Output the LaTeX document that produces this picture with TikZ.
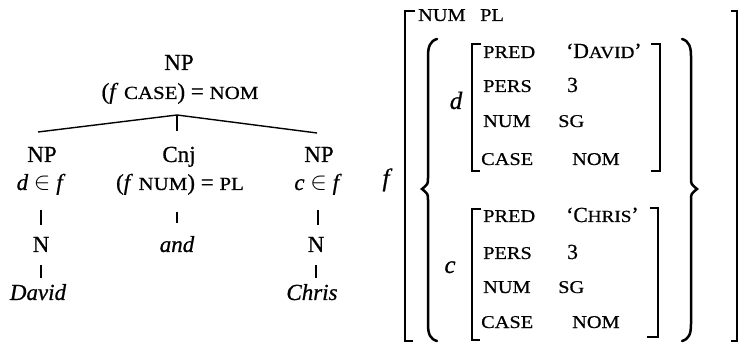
\documentclass[tikz,border=0pt]{standalone}
\usepackage{fontspec}
\setmainfont[FakeBold=0.7]{Liberation Serif}
\newfontfamily\scf[FakeStretch=1.13, FakeBold=0.7]{Liberation Serif}
\newcommand\tsc[1]{{\scf\fontsize{18.5}{20}\selectfont #1}}
\newcommand\bsc[1]{{\scf\fontsize{17}{20}\selectfont #1}}
\tikzset{
  treelabel/.style={font=\fontsize{23}{27}\selectfont, anchor=base, inner sep=0pt, outer sep=0pt},
  attr/.style={font=\scf\fontsize{18}{20}\selectfont, anchor=base west, inner sep=0pt},
  val/.style={font=\fontsize{21.5}{26}\selectfont, anchor=base west, inner sep=0pt},
  var/.style={font=\fontsize{25}{28}\selectfont\itshape, anchor=base, inner sep=0pt},
  branch/.style={line width=1.4pt},
  bar/.style={line width=1.7pt},
  brk/.style={line width=1.8pt},
  bracestyle/.style={line width=2.5pt, line cap=round}
}
\begin{document}
\begin{tikzpicture}[x=1pt,y=-1pt]
\useasboundingbox (0,0) rectangle (741,344);
% ---------- tree ----------
\node[treelabel] (np0) at (179,70) {NP};
\node[treelabel] (np0f) at (180,99) {(\textit{f} \tsc{CASE}) = \tsc{NOM}};
\coordinate (apex) at (177,115);
\node[treelabel] (np1) at (42,162) {NP};
\node[treelabel] (cnj) at (179,162) {Cnj};
\node[treelabel] (np2) at (319,162) {NP};
\coordinate (e1) at (38,132);
\coordinate (e2) at (177,131);
\coordinate (e3) at (317,133);
\draw[branch] (apex) -- (e1);
\draw[branch] (apex) -- (e2);
\draw[branch] (apex) -- (e3);
\node[treelabel] (d1) at (41,190) {\textit{d} $\in$ \textit{f}};
\node[treelabel] (cnjf) at (180,190) {(\textit{f} \tsc{NUM}) = \tsc{PL}};
\node[treelabel] (c1) at (318,190) {\textit{c} $\in$ \textit{f}};
\node[treelabel] (n1) at (41,252) {N};
\node[treelabel] (and) at (177,252) {\textit{and}};
\node[treelabel] (n2) at (316,252) {N};
\node[treelabel] (david) at (38,300) {\textit{David}};
\node[treelabel] (chris) at (312,300) {\textit{Chris}};
\draw[bar, shorten <=20pt, shorten >=27pt] (d1.base) -- (d1.base |- n1.base);
\draw[bar, line width=1.3pt, shorten <=22pt, shorten >=29pt] (cnjf.base -| and.base) -- (and.base);
\draw[bar, shorten <=20pt, shorten >=27pt] (c1.base) -- (c1.base |- n2.base);
\draw[bar, shorten <=13pt, shorten >=22pt] (n1.base) -- (n1.base |- david.base);
\draw[bar, shorten <=13pt, shorten >=22pt] (n2.base) -- (n2.base |- chris.base);
% ---------- AVM ----------
\node[var] (fv) at (386,186) {f};
% outer brackets
\draw[brk] (415,11) -- (405,11) -- (405,341) -- (413,341);
\draw[brk] (731,11) -- (737,11) -- (737,341) -- (731,341);
\node[attr] (numf) at (418,21) {NUM};
\node[attr] (plf) at (480,21) {PL};
% braces
\draw[bracestyle] (437,39) .. controls (430,41) and (428,47) .. (428,56) -- (428,178)
  .. controls (428,184) .. (422,189) .. controls (428,194) .. (428,200) -- (428,324)
  .. controls (428,334) and (430,339) .. (437,341);
\draw[bracestyle] (682,39) .. controls (689,41) and (691,47) .. (691,56) -- (691,178)
  .. controls (691,184) .. (697,189) .. controls (691,194) .. (691,200) -- (691,324)
  .. controls (691,334) and (689,339) .. (682,341);
% d
\node[var] (dv) at (456,109) {d};
\draw[brk] (481,44) -- (472,44) -- (472,171) -- (480,171);
\draw[brk] (651,44) -- (660,44) -- (660,171) -- (651,171);
\node[attr] (dpred) at (483,58) {PRED};
\node[val] (dpredv) at (566,58) {‘D\bsc{AVID}’};
\node[attr] (dpers) at (483,92) {PERS};
\node[val] (dpersv) at (567,92) {3};
\node[attr] (dnum) at (483,127) {NUM};
\node[attr] (dnumv) at (558,127) {SG};
\node[attr] (dcase) at (481,165) {CASE};
\node[attr] (dcasev) at (572,165) {NOM};
% c
\node[var] (cv) at (450,273) {c};
\draw[brk] (481,209) -- (472,209) -- (472,340) -- (480,340);
\draw[brk] (650,208) -- (658,208) -- (658,337) -- (647,337);
\node[attr] (cpred) at (483,222) {PRED};
\node[val] (cpredv) at (566,222) {‘C\bsc{HRIS}’};
\node[attr] (cpers) at (483,259) {PERS};
\node[val] (cpersv) at (567,259) {3};
\node[attr] (cnum) at (483,293) {NUM};
\node[attr] (cnumv) at (558,293) {SG};
\node[attr] (ccase) at (481,328) {CASE};
\node[attr] (ccasev) at (572,328) {NOM};
\end{tikzpicture}
\end{document}
